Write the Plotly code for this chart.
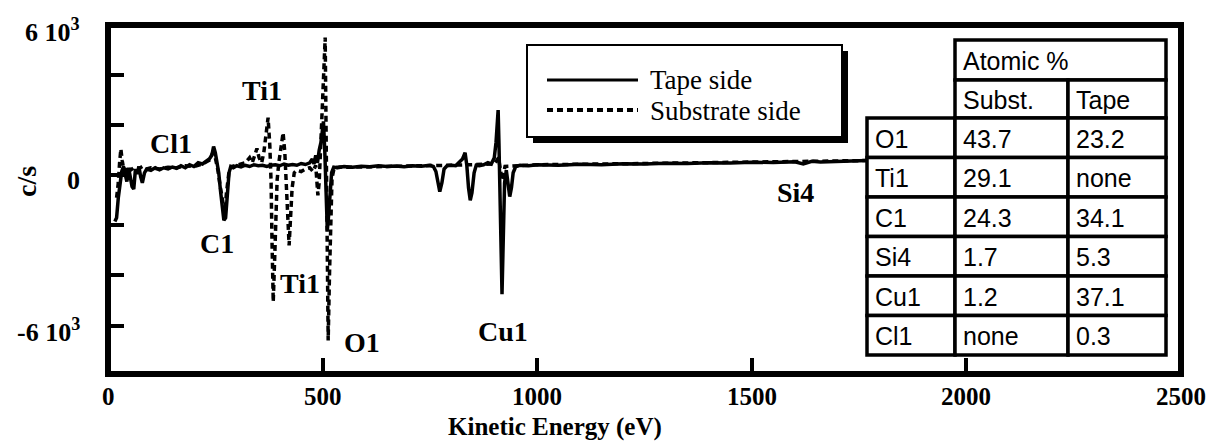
import plotly.graph_objects as go

# ---------------- data ----------------
tape_ev = [16, 20, 24, 28, 32, 36, 40, 44, 48, 52, 56, 60, 64, 68, 72, 76, 80, 85, 90,
           100, 110, 120, 130, 140, 150, 160, 170, 180, 190, 200, 210, 220, 228, 236, 242,
           246, 250, 254, 258, 262, 266, 270, 274, 278, 282, 286, 292, 300, 310, 320, 330,
           340, 350, 360, 370, 380, 390, 400, 410, 420, 430, 440, 450, 460, 470, 476, 480,
           484, 488, 492, 496, 499, 502, 505, 508, 511, 514, 517, 521, 526, 535, 550, 570,
           590, 610, 630, 650, 670, 690, 710, 730, 750, 758, 764, 769, 773, 778, 783, 790,
           800, 810, 818, 826, 832, 836, 840, 844, 848, 853, 858, 865, 875, 885, 893, 900,
           904, 907, 909, 911, 913, 915, 918, 921, 924, 928, 932, 936, 940, 944, 950, 960,
           980, 1000, 1050, 1100, 1150, 1200, 1250, 1300, 1350, 1400, 1450, 1500, 1550,
           1600, 1620, 1640, 1660, 1700, 1750, 1800, 1850, 1900, 1950, 2000]
tape_cs = [-1850, -1700, -900, -200, 150, 350, 100, -250, 300, 0, -450, -550, 250, 50, 350,
           -50, -300, 100, 250, 200, 300, 220, 300, 250, 330, 280, 380, 300, 420, 350, 500,
           450, 550, 650, 800, 1150, 900, 500, 100, -600, -1300, -1800, -1700, -700, 100,
           350, 300, 380, 330, 400, 350, 420, 380, 400, 350, 400, 420, 380, 450, 400, 430,
           400, 470, 430, 500, 650, 450, 800, 500, 1000, 1300, 1700, 2150, 1000, -900,
           -2200, -1600, -600, 100, 320, 300, 350, 320, 360, 340, 380, 350, 370, 340, 380,
           360, 400, 350, 150, -400, -650, -300, 250, 380, 400, 380, 500, 650, 900, 400,
           -500, -1000, -700, 100, 400, 380, 420, 500, 450, 700, 1300, 2200, 2600, 1200,
           -1000, -3200, -4750, -2500, -300, 200, -400, -850, -500, 100, 350, 400, 380, 420,
           400, 440, 420, 460, 450, 480, 470, 500, 490, 520, 510, 540, 450, 560, 530, 560,
           580, 600, 610, 620, 630, 640]

subst_ev = [20, 24, 27, 30, 33, 36, 40, 46, 52, 60, 70, 80, 90, 100, 120, 140, 160, 180,
            200, 220, 236, 244, 250, 256, 262, 268, 272, 276, 282, 288, 300, 310, 320, 330,
            336, 342, 347, 352, 358, 363, 368, 373, 377, 380, 382, 385, 388, 391, 394, 398,
            403, 408, 412, 415, 418, 422, 425, 429, 434, 440, 450, 460, 470, 478, 484, 489,
            492, 495, 499, 503, 506, 508, 510, 513, 516, 519, 522, 527, 540, 560, 600, 700,
            800, 900, 910, 918, 925, 1000, 1200, 1500, 1800, 2000]
subst_cs = [-900, -300, 500, 1050, 600, 300, 150, 350, 200, 300, 250, 350, 250, 300, 250,
            320, 300, 380, 350, 450, 600, 900, 700, 200, -500, -1200, -1500, -700, 150, 350,
            400, 450, 500, 700, 500, 800, 1070, 700, 500, 900, 1500, 2300, 1200, -300,
            -2500, -5050, -3500, -1500, -200, 500, 1100, 1700, 900, -300, -1600, -2800,
            -1800, -500, 100, 200, 150, 250, 300, 150, 400, -800, -300, 800, 2500, 4500,
            5500, 2000, -2500, -6600, -4000, -1500, -100, 300, 330, 320, 340, 370, 400, 450,
            700, -200, 350, 420, 460, 520, 600, 640]

series_names = ["Tape side", "Substrate side"]

x_tickvals = [0, 500, 1000, 1500, 2000, 2500]
x_ticktext = ["0", "500", "1000", "1500", "2000", "2500"]
y_tickvals = [-6000, -4000, -2000, 0, 2000, 4000, 6000]
y_label_vals = [6000, 0, -6000]
y_label_text = ["6 10<sup>3</sup>", "0", "-6 10<sup>3</sup>"]

peak_labels = ["Cl1", "Ti1", "C1", "Ti1", "O1", "Cu1", "Si4"]
peak_label_ev = [147, 359, 254, 447, 592, 920, 1601]
peak_label_cs = [1276, 3389, -2711, -4306, -6658, -6220, -678]

table_header = "Atomic %"
table_cols = ["Subst.", "Tape"]
table_elements = ["O1", "Ti1", "C1", "Si4", "Cu1", "Cl1"]
table_subst = ["43.7", "29.1", "24.3", "1.7", "1.2", "none"]
table_tape = ["23.2", "none", "34.1", "5.3", "37.1", "0.3"]

# ---------------- layout helpers ----------------
W, H = 1217, 443
L, R, T, B = 108, 1181, 25, 374
SERIF = "Liberation Serif, Times New Roman, serif"
SANS = "Liberation Sans, Arial, Helvetica, sans-serif"


def px(x):
    return (x - L) / (R - L)


def py(y):
    return (B - y) / (B - T)


fig = go.Figure()
fig.add_trace(go.Scatter(x=tape_ev, y=tape_cs, mode="lines", name=series_names[0],
                         line=dict(color="black", width=3.5), showlegend=False))
fig.add_trace(go.Scatter(x=subst_ev, y=subst_cs, mode="lines", name=series_names[1],
                         line=dict(color="black", width=3.5, dash="6px,4px"),
                         showlegend=False))

shapes = []
annotations = []

# frame
shapes.append(dict(type="rect", xref="paper", yref="paper", x0=0, x1=1, y0=0, y1=1,
                   line=dict(color="black", width=6), layer="above"))

# legend box with shadow
shapes.append(dict(type="rect", xref="paper", yref="paper", x0=px(533), x1=px(848),
                   y0=py(143), y1=py(51), fillcolor="black", line=dict(width=0),
                   layer="above"))
shapes.append(dict(type="rect", xref="paper", yref="paper", x0=px(527), x1=px(842),
                   y0=py(137), y1=py(45), fillcolor="white",
                   line=dict(color="black", width=2), layer="above"))
shapes.append(dict(type="line", xref="paper", yref="paper", x0=px(547), x1=px(638),
                   y0=py(80), y1=py(80), line=dict(color="black", width=3), layer="above"))
shapes.append(dict(type="line", xref="paper", yref="paper", x0=px(547), x1=px(638),
                   y0=py(110), y1=py(110),
                   line=dict(color="black", width=4, dash="6px,4px"), layer="above"))
for name, yy in zip(series_names, [80, 111]):
    annotations.append(dict(text=name, xref="paper", yref="paper", x=px(648), y=py(yy),
                            xanchor="left", yanchor="middle", showarrow=False,
                            font=dict(family=SERIF, size=27, color="black")))

# table
col_x = [867, 955, 1068, 1166]
row_top = 118
row_h = (355 - 118) / 6
tw = 3.5


def cell(x0, x1, y0, y1, text):
    shapes.append(dict(type="rect", xref="paper", yref="paper", x0=px(x0), x1=px(x1),
                       y0=py(y1), y1=py(y0), fillcolor="white",
                       line=dict(color="black", width=tw), layer="above"))
    annotations.append(dict(text=text, xref="paper", yref="paper", x=px(x0 + 6),
                            y=py((y0 + y1) / 2 + 1), xanchor="left", yanchor="middle",
                            showarrow=False,
                            font=dict(family=SANS, size=25, color="black")))


cell(col_x[1], col_x[3], 40, 80, table_header)
cell(col_x[1], col_x[2], 80, row_top, table_cols[0])
cell(col_x[2], col_x[3], 80, row_top, table_cols[1])
for i, (el, s, t) in enumerate(zip(table_elements, table_subst, table_tape)):
    y0 = row_top + i * row_h
    y1 = y0 + row_h
    cell(col_x[0], col_x[1], y0, y1, el)
    cell(col_x[1], col_x[2], y0, y1, s)
    cell(col_x[2], col_x[3], y0, y1, t)

# peak labels
for lab, xe, yc in zip(peak_labels, peak_label_ev, peak_label_cs):
    annotations.append(dict(text="<b>%s</b>" % lab, x=xe, y=yc, xref="x", yref="y",
                            showarrow=False, xanchor="center", yanchor="middle",
                            font=dict(family=SERIF, size=28, color="black")))

# y tick labels
for v, t in zip(y_label_vals, y_label_text):
    annotations.append(dict(text="<b>%s</b>" % t, x=px(82), y=v, xref="paper", yref="y",
                            xanchor="right", yanchor="middle", yshift=-5, showarrow=False,
                            font=dict(family=SERIF, size=26, color="black")))

# x tick labels
for v, t in zip(x_tickvals, x_ticktext):
    annotations.append(dict(text="<b>%s</b>" % t, x=v, y=py(396), xref="x", yref="paper",
                            xanchor="center", yanchor="middle", showarrow=False,
                            font=dict(family=SERIF, size=25, color="black")))

# axis titles
annotations.append(dict(text="<b>c/s</b>", x=px(26), y=py(182), xref="paper", yref="paper",
                        textangle=-90, showarrow=False, xanchor="center", yanchor="middle",
                        font=dict(family=SERIF, size=28, color="black")))
annotations.append(dict(text="<b>Kinetic Energy (eV)</b>", x=px(555), y=py(427),
                        xref="paper", yref="paper", showarrow=False, xanchor="center",
                        yanchor="middle", font=dict(family=SERIF, size=25, color="black")))

fig.update_layout(
    width=W, height=H,
    margin=dict(l=L, r=W - R, t=T, b=H - B),
    paper_bgcolor="white", plot_bgcolor="white",
    shapes=shapes, annotations=annotations,
    xaxis=dict(range=[0, 2500], tickvals=x_tickvals, showticklabels=False,
               ticks="inside", ticklen=16, tickwidth=4, tickcolor="black",
               showgrid=False, zeroline=False, showline=False),
    yaxis=dict(range=[-7935, 6000], tickvals=y_tickvals, showticklabels=False,
               ticks="inside", ticklen=16, tickwidth=4, tickcolor="black",
               showgrid=False, zeroline=False, showline=False),
    showlegend=False,
)

fig.write_html("out.html")
